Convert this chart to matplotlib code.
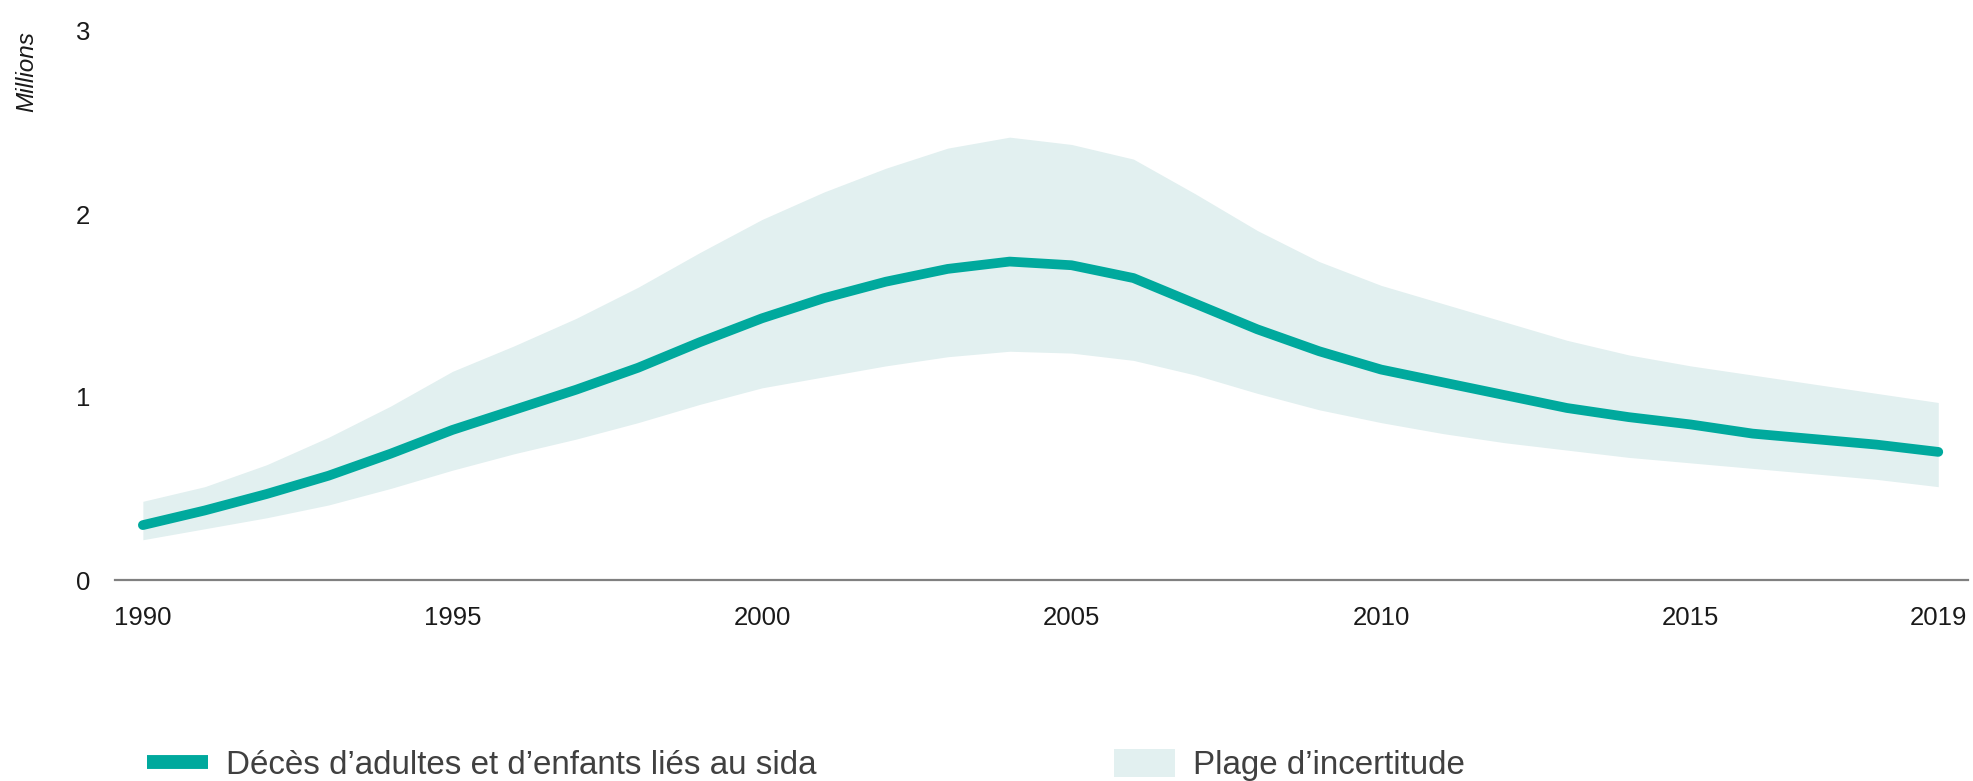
import matplotlib
matplotlib.use("Agg")
import matplotlib.pyplot as plt
from matplotlib.lines import Line2D
from matplotlib.patches import Patch

plt.rcParams["font.family"] = ["Liberation Sans", "DejaVu Sans"]

# données (millions)
years = list(range(1990, 2020))
deaths = [0.30, 0.38, 0.47, 0.57, 0.69, 0.82, 0.93, 1.04, 1.16, 1.30,
          1.43, 1.54, 1.63, 1.70, 1.74, 1.72, 1.65, 1.51, 1.37, 1.25,
          1.15, 1.08, 1.01, 0.94, 0.89, 0.85, 0.80, 0.77, 0.74, 0.70]
upper = [0.43, 0.51, 0.63, 0.78, 0.95, 1.14, 1.28, 1.43, 1.60, 1.79,
         1.97, 2.12, 2.25, 2.36, 2.42, 2.38, 2.30, 2.11, 1.91, 1.74,
         1.61, 1.51, 1.41, 1.31, 1.23, 1.17, 1.12, 1.07, 1.02, 0.97]
lower = [0.22, 0.28, 0.34, 0.41, 0.50, 0.60, 0.69, 0.77, 0.86, 0.96,
         1.05, 1.11, 1.17, 1.22, 1.25, 1.24, 1.20, 1.12, 1.02, 0.93,
         0.86, 0.80, 0.75, 0.71, 0.67, 0.64, 0.61, 0.58, 0.55, 0.51]
xticks = [1990, 1995, 2000, 2005, 2010, 2015, 2019]
yticks = [0, 1, 2, 3]

LINE = "#00a99d"
BAND = "#e2f0f0"

fig = plt.figure(figsize=(19.73, 7.81), dpi=100)
ax = fig.add_axes([115 / 1973, 1 - 580 / 781, (1968 - 115) / 1973, (580 - 31) / 781])

ax.fill_between(years, lower, upper, color=BAND, linewidth=0)
ax.plot(years, deaths, color=LINE, linewidth=7, solid_capstyle="round",
        solid_joinstyle="round")

ax.set_xlim(1989.55, 2019.48)
ax.set_ylim(0, 3)
ax.set_xticks(xticks)
ax.set_yticks(yticks)
ax.tick_params(length=0, labelsize=18.5, colors="#1a1a1a")
ax.tick_params(axis="x", pad=19)
ax.tick_params(axis="y", pad=18)

for s in ["top", "right", "left"]:
    ax.spines[s].set_visible(False)
ax.spines["bottom"].set_color("#808080")
ax.spines["bottom"].set_linewidth(1.6)

fig.text(27 / 1973, 1 - 72 / 781, "Millions", rotation=90, style="italic",
         fontsize=17.5, ha="center", va="center", color="#1a1a1a")

handles = [Line2D([0], [0], color=LINE, linewidth=10, solid_capstyle="butt"),
           Patch(facecolor=BAND, edgecolor="none")]
labels = ["Décès d’adultes et d’enfants liés au sida", "Plage d’incertitude"]
fig.legend(handles, labels, loc="center left",
           bbox_to_anchor=(147 / 1973, 1 - 765 / 781), ncol=2, frameon=False,
           fontsize=23.9, labelcolor="#404040", handlelength=1.84,
           handleheight=0.95, handletextpad=0.55, columnspacing=8.95,
           borderpad=0, borderaxespad=0)

plt.savefig("out.png", dpi=100)
